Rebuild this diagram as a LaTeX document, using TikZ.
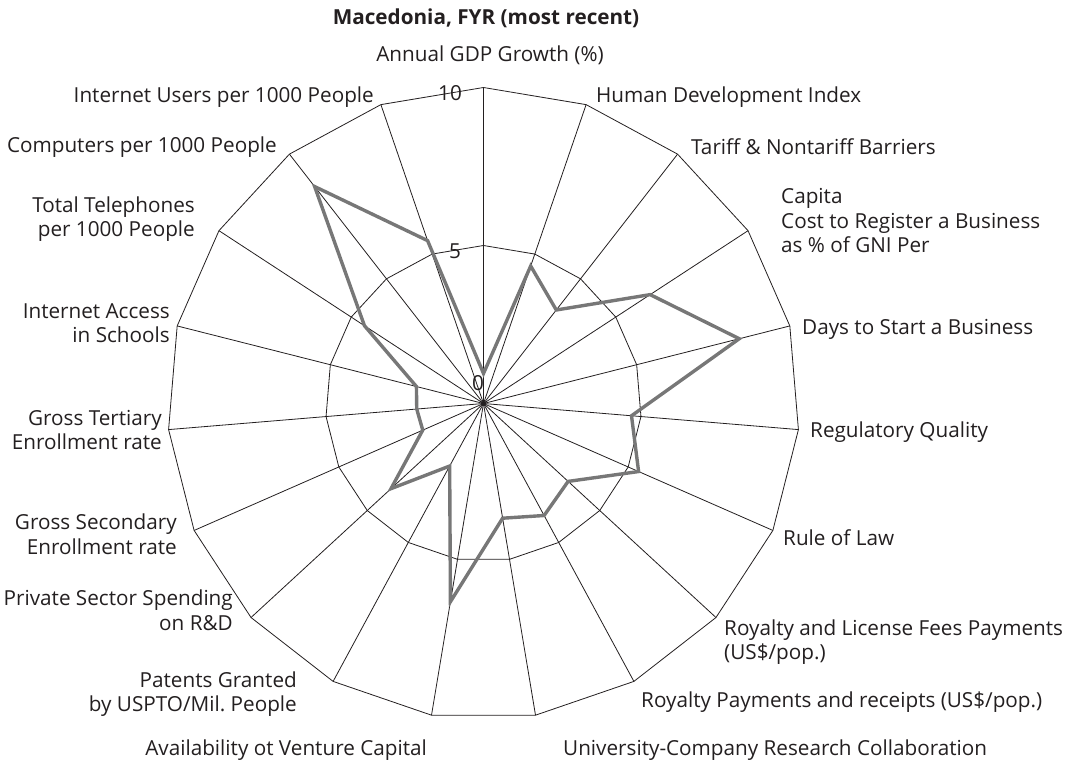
\documentclass[tikz,border=0pt]{standalone}
\usepackage{fontspec}
\setmainfont{Open Sans}
\definecolor{txt}{HTML}{231F20}
\definecolor{dataline}{HTML}{777777}
\begin{document}
\begin{tikzpicture}[x=1pt,y=-1pt,
  lbl/.style={font=\fontsize{20.7}{24.5}\selectfont, text=txt, inner sep=0pt},
  lleft/.style={lbl, anchor=east, align=right},
  lright/.style={lbl, anchor=west, align=left},
  grid/.style={draw=txt, line width=0.8pt},
  dataline/.style={draw=dataline, line width=3.4pt}]
\useasboundingbox (0,0) rectangle (1071,771);
\def\cx{483.5}\def\cy{403.5}\def\R{316}
\coordinate (o) at (\cx,\cy);
\foreach \i in {0,...,18}{
  \pgfmathsetmacro\a{90-\i*360/19}
  \coordinate (p\i) at ({\cx+\R*cos(\a)},{\cy-\R*sin(\a)});
  \coordinate (h\i) at ({\cx+0.5*\R*cos(\a)},{\cy-0.5*\R*sin(\a)});
}
% scale labels
\node[lbl] (s10) at (450,93) {10};
\node[lbl] (s5) at (455,251) {5};
\node[lbl] (s0) at (478,383) {0};
% grid
\foreach \i in {0,...,18}{ \draw[grid] (o) -- (p\i); }
\draw[grid] (p0) \foreach \i in {1,...,18}{ -- (p\i) } -- cycle;
\draw[grid] (h0) \foreach \i in {1,...,18}{ -- (h\i) } -- cycle;
\fill[txt] (o) circle (2.5);
% data
\foreach \v [count=\j from 0] in {0.95,4.6,3.75,6.3,8.35,4.7,5.36,3.64,4.03,3.68,6.36,2.25,3.98,2.1,2.12,2.19,4.5,8.7,5.45}{
  \pgfmathsetmacro\a{90-\j*360/19}
  \coordinate (d\j) at ({\cx+\v/10*\R*cos(\a)},{\cy-\v/10*\R*sin(\a)});
}
\draw[dataline] (d0) \foreach \i in {1,...,18}{ -- (d\i) } -- cycle;
% title
\node[lbl, font=\fontsize{20.7}{24.5}\selectfont\bfseries] (title) at (486,18) {Macedonia, FYR (most recent)};
% axis labels
\node[lbl] (l0) at (490,55) {Annual GDP Growth (\%)};
\node[lright] (l1) at (596,97) {Human Development Index};
\node[lright] (l2) at (691,147) {Tariff \& Nontariff Barriers};
\node[lright] (l3) at (781,221) {Capita\\Cost to Register a Business\\as \% of GNI Per};
\node[lright] (l4) at (802,329) {Days to Start a Business};
\node[lright] (l5) at (810,432) {Regulatory Quality};
\node[lright] (l6) at (783,538) {Rule of Law};
\node[lright] (l7) at (724,642) {Royalty and License Fees Payments\\(US\$/pop.)};
\node[lright] (l8) at (641,702) {Royalty Payments and receipts (US\$/pop.)};
\node[lright] (l9) at (563,750) {University-Company Research Collaboration};
\node[lleft] (l10) at (427,750) {Availability ot Venture Capital};
\node[lleft] (l11) at (297,694) {Patents Granted\\by USPTO/Mil.\ People};
\node[lleft] (l12) at (233,610) {Private Sector Spending\\on R\&D};
\node[lleft] (l13) at (177,534) {Gross Secondary\\Enrollment rate};
\node[lleft] (l14) at (162,430) {Gross Tertiary\\Enrollment rate};
\node[lleft] (l15) at (170,323) {Internet Access\\in Schools};
\node[lleft] (l16) at (195,219) {Total Telephones\\per 1000 People};
\node[lleft] (l17) at (277,147) {Computers per 1000 People};
\node[lleft] (l18) at (374,97) {Internet Users per 1000 People};
\end{tikzpicture}
\end{document}
